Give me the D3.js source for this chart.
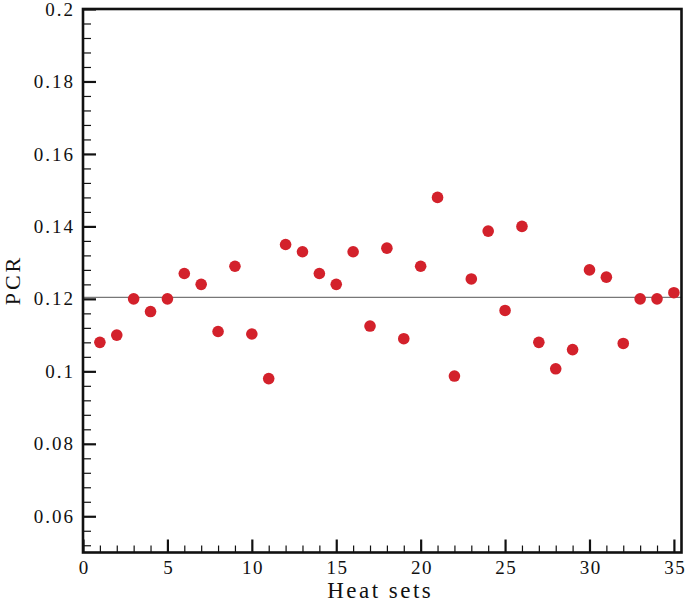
<!DOCTYPE html>
<html>
<head>
<meta charset="utf-8">
<script src="https://cdn.jsdelivr.net/npm/d3@7"></script>
<style>
  html, body { margin: 0; padding: 0; background: #fff; }
  svg { display: block; }
  text { font-family: "Liberation Serif", "Times New Roman", serif; fill: #111; }
</style>
</head>
<body>
<svg id="chart" width="685" height="602"></svg>
<script>
// ---- data ----
const heatSets = d3.range(1, 36);
const pcrValues = [
  0.108, 0.110, 0.120, 0.1165, 0.120, 0.127, 0.124, 0.111, 0.129, 0.1103,
  0.098, 0.135, 0.133, 0.127, 0.124, 0.133, 0.1125, 0.134, 0.109, 0.129,
  0.148, 0.0987, 0.1255, 0.1387, 0.1168, 0.140, 0.108, 0.1007, 0.106, 0.128,
  0.126, 0.1077, 0.120, 0.120, 0.1217
];
const meanPCR = 0.1204;
const xTicks = [0, 5, 10, 15, 20, 25, 30, 35];
const yTicks = [0.06, 0.08, 0.1, 0.12, 0.14, 0.16, 0.18, 0.2];
const xLabel = "Heat sets";
const yLabel = "PCR";

// ---- layout ----
const svg = d3.select("#chart");
const mLeft = 83, mRight = 681.5, mTop = 9, mBottom = 552.5;

const x = d3.scaleLinear().domain([0, 35.45]).range([mLeft, mRight]);
const y = d3.scaleLinear().domain([0.05, 0.2]).range([mBottom, mTop]);

const xMinor = d3.range(1, 36).filter(v => v % 5 !== 0);
const yMinor = d3.range(0, 38).map(i => +(0.052 + i * 0.004).toFixed(3))
  .filter(v => v < 0.2 && Math.round(v * 1000) % 20 !== 0);

// minor ticks
svg.append("g").attr("transform", `translate(0,${mBottom})`)
  .call(d3.axisBottom(x).tickValues(xMinor).tickSize(-7).tickFormat(""))
  .call(g => { g.select(".domain").remove(); g.selectAll("line").attr("stroke", "#111").attr("stroke-width", 1.2); });
svg.append("g").attr("transform", `translate(${mLeft},0)`)
  .call(d3.axisLeft(y).tickValues(yMinor).tickSize(-8).tickFormat(""))
  .call(g => { g.select(".domain").remove(); g.selectAll("line").attr("stroke", "#111").attr("stroke-width", 1.2); });

// major ticks with labels
svg.append("g").attr("transform", `translate(0,${mBottom})`)
  .call(d3.axisBottom(x).tickValues(xTicks).tickSize(-13).tickPadding(8).tickFormat(d3.format("d")))
  .call(g => {
    g.select(".domain").remove();
    g.selectAll("line").attr("stroke", "#111").attr("stroke-width", 2.2);
    g.selectAll("text").attr("font-size", 19).attr("letter-spacing", "1.5px")
      .attr("fill", "#111").attr("dx", "0.75px");
  });
svg.append("g").attr("transform", `translate(${mLeft},0)`)
  .call(d3.axisLeft(y).tickValues(yTicks).tickSize(-13).tickPadding(8)
    .tickFormat(d => d3.format("")(+d.toFixed(2))))
  .call(g => {
    g.select(".domain").remove();
    g.selectAll("line").attr("stroke", "#111").attr("stroke-width", 2.2);
    g.selectAll("text").attr("font-size", 19).attr("letter-spacing", "2px")
      .attr("fill", "#111");
  });

// mean line
svg.append("line")
  .attr("x1", x(0)).attr("x2", mRight)
  .attr("y1", y(meanPCR)).attr("y2", y(meanPCR))
  .attr("stroke", "#777").attr("stroke-width", 1.4);

// frame
svg.append("rect")
  .attr("x", mLeft).attr("y", mTop)
  .attr("width", mRight - mLeft).attr("height", mBottom - mTop)
  .attr("fill", "none").attr("stroke", "#111").attr("stroke-width", 2.6);

// points
svg.append("g").selectAll("circle")
  .data(heatSets)
  .join("circle")
  .attr("cx", d => x(d))
  .attr("cy", (d, i) => y(pcrValues[i]))
  .attr("r", 5.8)
  .attr("fill", "#d3212b");

// axis titles
svg.append("text")
  .attr("x", (mLeft + mRight) / 2 - 2).attr("y", 598)
  .attr("text-anchor", "middle")
  .attr("font-size", 23).attr("letter-spacing", "2.5px")
  .text(xLabel);
svg.append("text")
  .attr("transform", `translate(20,280) rotate(-90)`)
  .attr("text-anchor", "middle")
  .attr("font-size", 22).attr("letter-spacing", "3px")
  .text(yLabel);
</script>
</body>
</html>
